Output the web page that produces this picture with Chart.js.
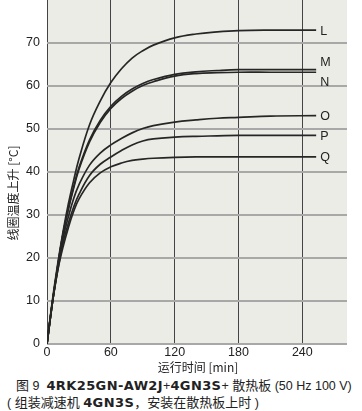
<!DOCTYPE html>
<html>
<head>
<meta charset="utf-8">
<script src="https://cdn.jsdelivr.net/npm/chart.js@4"></script>
<style>
  body { margin: 0; background: #fff; width: 362px; height: 411px; overflow: hidden; }
  #wrap { position: relative; width: 362px; height: 374px; }
  .cap { font-family: "Liberation Sans", "Noto Sans CJK SC", sans-serif; font-size: 12.5px; line-height: 16px; color: #222; white-space: nowrap; position: absolute; }
  .cap .zh { font-family: "Noto Sans CJK SC", sans-serif; font-size: 13px; }
  .cap b { font-family: "DejaVu Sans", sans-serif; font-weight: bold; font-size: 13px; letter-spacing: 0.4px; }
</style>
</head>
<body>
<div id="wrap"><canvas id="chart" width="362" height="374"></canvas></div>
<div class="cap" style="left:16px; top:377px;"><span class="zh">图</span> 9 &nbsp;<b>4RK25GN-AW2J</b>+<b>4GN3S</b>+ <span class="zh">散热板</span> (50 Hz 100 V)</div>
<div class="cap" style="left:7px; top:394px;">( <span class="zh">组装减速机</span> <b>4GN3S</b><span class="zh">，安装在散热板上时</span> )</div>
<script>
//---------------------------------------------------------------------//
//-----------------------------DATA ZONE-------------------------------//
//---------------------------------------------------------------------//
const timeMin = [0, 5, 10, 15, 20, 25, 30, 40, 50, 60, 70, 80, 90, 100, 120, 140, 160, 180, 210, 253];
const curveL = [0, 10, 18.5, 26, 32.5, 38, 43, 51, 56.5, 60.8, 64, 66.5, 68.2, 69.5, 71.2, 72.1, 72.6, 72.9, 73, 73];
const curveM = [0, 9.5, 18, 25.5, 31.5, 36.5, 41, 47.5, 52, 55.3, 57.6, 59.3, 60.6, 61.5, 62.7, 63.3, 63.6, 63.8, 63.8, 63.8];
const curveN = [0, 9.5, 18, 25.5, 31.2, 36.2, 40.6, 47, 51.5, 54.8, 57.1, 58.8, 60.1, 61, 62.3, 62.9, 63.1, 63.2, 63.2, 63.2];
const curveO = [0, 9.5, 17.5, 24.5, 29.5, 33.8, 37, 41.6, 44.4, 46.3, 47.8, 49.1, 50.1, 50.8, 51.6, 52.1, 52.5, 52.7, 53, 53.1];
const curveP = [0, 9.5, 17, 23.5, 28, 31.8, 34.8, 39.2, 41.8, 43.5, 45, 46.3, 47.2, 47.7, 48.1, 48.3, 48.4, 48.5, 48.5, 48.5];
const curveQ = [0, 9.5, 17, 22.5, 27, 30.8, 33.7, 37.5, 39.8, 41.2, 42.1, 42.7, 43, 43.2, 43.4, 43.5, 43.5, 43.5, 43.5, 43.5];
const curveNames = ['L', 'M', 'N', 'O', 'P', 'Q'];
const xTicks = [0, 60, 120, 180, 240];
const yTicks = [0, 10, 20, 30, 40, 50, 60, 70];
const yTitle = '线圈温度上升 [°C]';
const xTitle = '运行时间 [min]';

//---------------------------------------------------------------------//
//---------------------------PLUGINS ZONE------------------------------//
//---------------------------------------------------------------------//
const plotBackground = {
    id: 'plotBackground',
    beforeDraw(chart) {
        const { ctx, chartArea: a } = chart;
        ctx.save();
        ctx.fillStyle = '#ececE6';
        ctx.fillRect(a.left, a.top, a.right - a.left, a.bottom - a.top);
        ctx.restore();
    }
};

const curveLabels = {
    id: 'curveLabels',
    afterDatasetsDraw(chart) {
        const { ctx } = chart;
        ctx.save();
        ctx.font = '12.5px "Liberation Sans Narrow", "Liberation Sans", sans-serif';
        ctx.fillStyle = '#222';
        ctx.textBaseline = 'middle';
        chart.data.datasets.forEach((ds, i) => {
            const pts = chart.getDatasetMeta(i).data;
            const last = pts[pts.length - 1];
            let y = last.y;
            if (ds.label === 'M') y -= 8.5;
            if (ds.label === 'N') y += 9;
            ctx.fillText(ds.label, last.x + 4, y + 1);
        });
        ctx.restore();
    }
};

const axisTitles = {
    id: 'axisTitles',
    afterDraw(chart) {
        const { ctx } = chart;
        ctx.save();
        ctx.font = '12px "Noto Sans CJK SC", sans-serif';
        ctx.fillStyle = '#222';
        ctx.textAlign = 'center';
        ctx.textBaseline = 'middle';
        ctx.fillText(xTitle, 198, 367);
        ctx.translate(13, 193);
        ctx.rotate(-Math.PI / 2);
        ctx.fillText(yTitle, 0, 0);
        ctx.restore();
    }
};

//---------------------------------------------------------------------//
//----------------------------CHART ZONE-------------------------------//
//---------------------------------------------------------------------//
const series = [curveL, curveM, curveN, curveO, curveP, curveQ];
const tickFont = { family: '"Liberation Sans Narrow", "Liberation Sans", sans-serif', size: 12.5 };

new Chart(document.getElementById('chart'), {
    type: 'line',
    data: {
        datasets: series.map((vals, i) => ({
            label: curveNames[i],
            data: timeMin.map((t, j) => ({ x: t, y: vals[j] })),
            borderColor: '#262626',
            borderWidth: 1.7,
            pointRadius: 0,
            fill: false,
            tension: 0.4
        }))
    },
    options: {
        animation: false,
        responsive: false,
        events: [],
        layout: { padding: { top: 0, right: 15, left: 0, bottom: 0 } },
        plugins: { legend: { display: false }, tooltip: { enabled: false } },
        scales: {
            x: {
                type: 'linear',
                min: 0,
                max: 282,
                afterBuildTicks: (s) => { s.ticks = xTicks.map(v => ({ value: v })); },
                afterFit: (s) => { s.height = 30; s.paddingLeft = 0; s.paddingRight = 0; },
                ticks: { font: tickFont, color: '#222', padding: 1, maxRotation: 0 },
                grid: { color: '#444', lineWidth: 1, drawTicks: false },
                border: { display: false }
            },
            y: {
                type: 'linear',
                min: 0,
                max: 80,
                afterBuildTicks: (s) => { s.ticks = yTicks.map(v => ({ value: v })); },
                afterFit: (s) => { s.width = 47; s.paddingTop = 0; s.paddingBottom = 0; },
                ticks: { font: tickFont, color: '#222', padding: 7 },
                grid: { color: '#a8a8a8', lineWidth: 2, drawTicks: false },
                border: { display: false }
            }
        }
    },
    plugins: [plotBackground, curveLabels, axisTitles]
});
</script>
</body>
</html>
